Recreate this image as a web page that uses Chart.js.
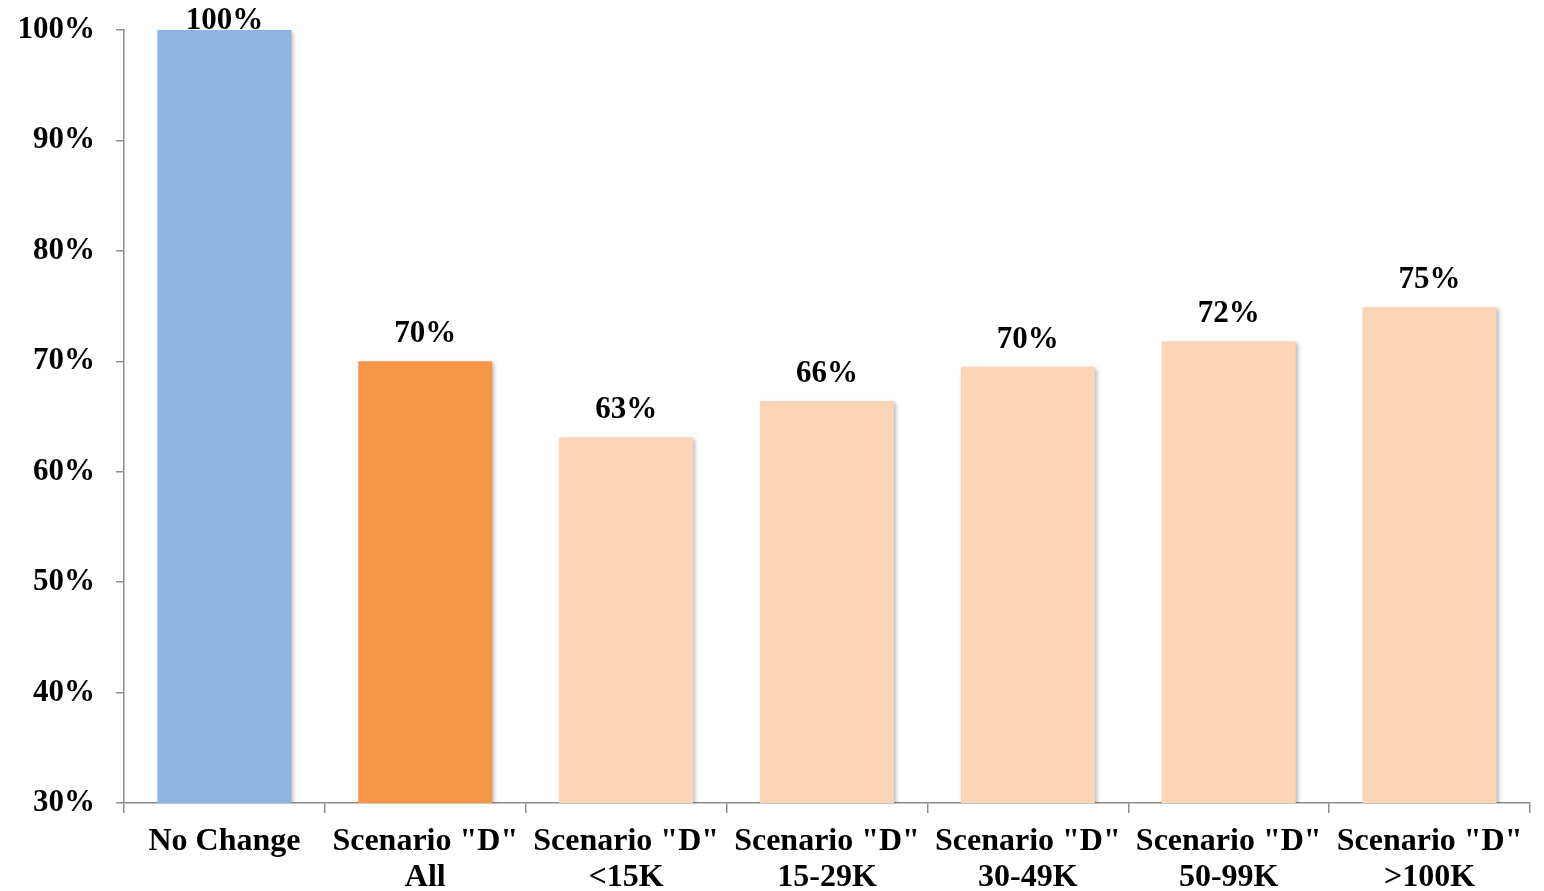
<!DOCTYPE html>
<html>
<head>
<meta charset="utf-8">
<script src="https://cdn.jsdelivr.net/npm/chart.js@4/dist/chart.umd.min.js"></script>
<style>
  html, body { margin: 0; padding: 0; background: #fff; }
  #wrap { width: 1544px; height: 891px; }
</style>
</head>
<body>
<div id="wrap"><canvas id="chart" width="1544" height="891"></canvas></div>
<script>
const categories = [
    ["No Change"],
    ['Scenario "D"', "All"],
    ['Scenario "D"', "<15K"],
    ['Scenario "D"', "15-29K"],
    ['Scenario "D"', "30-49K"],
    ['Scenario "D"', "50-99K"],
    ['Scenario "D"', ">100K"],
];
const values = [100, 70, 63.1, 66.4, 69.5, 71.8, 74.9];
const valueLabels = ["100%", "70%", "63%", "66%", "70%", "72%", "75%"];
const barColors = ["#8EB4E3", "#F79646", "#FBD5B5", "#FBD5B5", "#FBD5B5", "#FBD5B5", "#FBD5B5"];

const FONT = "'Liberation Serif', 'Times New Roman', serif";
const AXIS_COLOR = "#8C8C8C";

// soft shadow under the bars, like the office chart
const barShadow = {
    id: "barShadow",
    beforeDatasetsDraw(chart) {
        const ctx = chart.ctx;
        ctx.save();
        ctx.shadowColor = "rgba(0,0,0,0.28)";
        ctx.shadowBlur = 4;
        ctx.shadowOffsetX = 2;
        ctx.shadowOffsetY = 2;
    },
    afterDatasetsDraw(chart) {
        chart.ctx.restore();
    },
};

const valueLabelsPlugin = {
    id: "valueLabels",
    afterDatasetsDraw(chart) {
        const ctx = chart.ctx;
        const meta = chart.getDatasetMeta(0);
        ctx.save();
        ctx.fillStyle = "#000";
        ctx.font = `bold 31px ${FONT}`;
        ctx.textAlign = "center";
        ctx.textBaseline = "middle";
        meta.data.forEach((bar, i) => {
            const y = Math.max(bar.y - 27, 21);
            ctx.fillText(valueLabels[i], bar.x, y);
        });
        ctx.restore();
    },
};

new Chart(document.getElementById("chart"), {
    type: "bar",
    data: {
        labels: categories,
        datasets: [{
            data: values,
            backgroundColor: barColors,
            borderWidth: 0,
            barPercentage: 1,
            categoryPercentage: 0.667,
        }],
    },
    options: {
        responsive: false,
        animation: false,
        layout: { padding: { top: 0, right: 14, left: 0, bottom: 0 } },
        plugins: {
            legend: { display: false },
            tooltip: { enabled: false },
        },
        scales: {
            x: {
                grid: {
                    display: true,
                    drawOnChartArea: false,
                    color: AXIS_COLOR,
                    tickLength: 10,
                    lineWidth: 1.5,
                },
                border: { color: AXIS_COLOR, width: 1.5 },
                ticks: {
                    color: "#000",
                    font: { family: FONT, size: 32, weight: "bold", lineHeight: 1.12 },
                    padding: 11,
                    maxRotation: 0,
                    autoSkip: false,
                },
                afterFit(scale) { scale.height = 88; },
            },
            y: {
                min: 30,
                max: 100,
                grid: {
                    display: true,
                    drawOnChartArea: false,
                    color: AXIS_COLOR,
                    tickLength: 8,
                    lineWidth: 1.5,
                },
                border: { color: AXIS_COLOR, width: 1.5 },
                ticks: {
                    stepSize: 10,
                    color: "#000",
                    font: { family: FONT, size: 31, weight: "bold" },
                    padding: 21,
                    callback: (v) => v + "%",
                },
                afterFit(scale) {
                    scale.width = 124;
                    scale.paddingTop = 30;
                },
            },
        },
    },
    plugins: [barShadow, valueLabelsPlugin],
});
</script>
</body>
</html>
